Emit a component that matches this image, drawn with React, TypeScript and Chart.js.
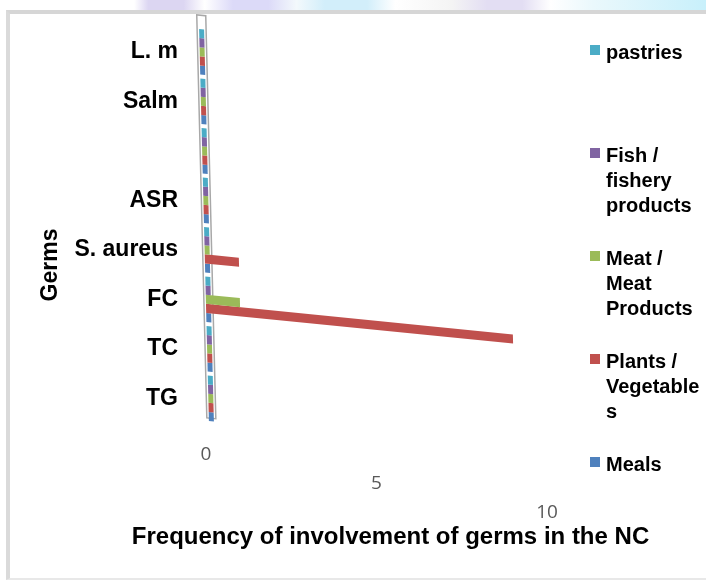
import React, { useEffect, useRef } from "react";
import { Chart, registerables } from "chart.js";

Chart.register(...registerables);

// ---- data ----
const GERMS = ["L. m", "Salm", "", "ASR", "S. aureus", "FC", "TC", "TG"];
const SERIES_NAMES = [
  "pastries",
  "Fish / fishery products",
  "Meat / Meat Products",
  "Plants / Vegetables",
  "Meals",
];
const SERIES_COLORS = ["#4BACC6", "#8064A2", "#9BBB59", "#C0504D", "#4F81BD"];
const PASTRIES = [0, 0, 0, 0, 0, 0, 0, 0];
const FISH = [0, 0, 0, 0, 0, 0, 0, 0];
const MEAT = [0, 0, 0, 0, 0, 1, 0, 0];
const PLANTS = [0, 0, 0, 0, 1, 9, 0, 0];
const MEALS = [0, 0, 0, 0, 0, 0, 0, 0];
const SERIES_VALUES = [PASTRIES, FISH, MEAT, PLANTS, MEALS];
const X_TICKS = [0, 5, 10];
const X_TITLE = "Frequency of involvement of germs in the NC";
const Y_TITLE = "Germs";

const FONT = '"Liberation Sans", Arial, sans-serif';
const SKEW_Y = 0.1;
const SKEW_X = 0.025;

const perspectivePlugin = {
  id: "perspective",
  beforeDatasetsDraw(chart: any) {
    const { ctx, chartArea: ca, scales } = chart;
    const x0 = scales.x.getPixelForValue(0);
    const yc = (ca.top + ca.bottom) / 2;
    ctx.save();
    ctx.translate(x0, yc);
    ctx.transform(1, SKEW_Y, SKEW_X, 1, 0, 0);
    ctx.translate(-x0, -yc);
    // back wall
    ctx.fillStyle = "#ffffff";
    ctx.strokeStyle = "#a8a8a8";
    ctx.lineWidth = 1.5;
    ctx.beginPath();
    ctx.rect(x0 - 2, ca.top - 12, 9, ca.bottom - ca.top + 7);
    ctx.fill();
    ctx.stroke();
  },
  afterDatasetsDraw(chart: any) {
    chart.ctx.restore();
  },
  afterDraw(chart: any) {
    const { ctx, chartArea: ca, scales } = chart;
    const x0 = scales.x.getPixelForValue(0);
    ctx.save();
    // slanted tick labels
    ctx.font = `19px "Open Sans", ${FONT}`;
    ctx.fillStyle = "#595959";
    ctx.textAlign = "center";
    ctx.textBaseline = "middle";
    X_TICKS.forEach((v) => {
      const px = scales.x.getPixelForValue(v);
      ctx.fillText(String(v), px + 2, ca.bottom + 32 + (px - x0) * 0.17);
    });
    // axis titles
    ctx.fillStyle = "#000000";
    ctx.font = `bold 24px ${FONT}`;
    ctx.fillText(X_TITLE, (ca.left + ca.right) / 2 + 16, ca.bottom + 114);
    ctx.font = `bold 23px ${FONT}`;
    ctx.translate(ca.left - 153, (ca.top + ca.bottom) / 2 + 40);
    ctx.rotate(-Math.PI / 2);
    ctx.fillText(Y_TITLE, 0, 0);
    ctx.restore();
  },
};

export default function App() {
  const ref = useRef<HTMLCanvasElement | null>(null);

  useEffect(() => {
    if (!ref.current) return;
    const chart = new Chart(ref.current, {
      type: "bar",
      data: {
        labels: GERMS,
        datasets: SERIES_NAMES.map((name, i) => ({
          label: name,
          data: SERIES_VALUES[i],
          backgroundColor: SERIES_COLORS[i],
          borderWidth: 0,
          categoryPercentage: 0.92,
          barPercentage: 1,
          minBarLength: 5,
          clip: false,
        })),
      },
      options: {
        indexAxis: "y",
        responsive: false,
        animation: false,
        devicePixelRatio: 1,
        layout: { padding: { left: 30, right: 161, top: 27, bottom: 160 } },
        plugins: {
          legend: { display: false },
          tooltip: { enabled: false },
        },
        scales: {
          x: {
            type: "linear",
            display: false,
            min: X_TICKS[0],
            max: X_TICKS[X_TICKS.length - 1],
            ticks: { stepSize: 5 },
          },
          y: {
            type: "category",
            position: "left",
            grid: { display: false, drawTicks: false },
            border: { display: false },
            ticks: {
              autoSkip: false,
              padding: 26,
              color: "#000000",
              font: { family: FONT, size: 23, weight: "bold" },
            },
            afterFit(scale: any) {
              scale.width = 174;
              scale.paddingTop = 0;
              scale.paddingBottom = 0;
            },
          },
        },
      },
      plugins: [perspectivePlugin],
    } as any);
    return () => chart.destroy();
  }, []);

  return (
    <div
      style={{
        position: "absolute",
        left: 0,
        top: 0,
        width: 706,
        height: 583,
        overflow: "hidden",
        background: "#ffffff",
        fontFamily: FONT,
      }}
    >
      <div
        style={{
          position: "absolute",
          left: 0,
          top: 0,
          width: 706,
          height: 10,
          background:
            "linear-gradient(to right, #fff 0%, #fff 19%, #dcd6f2 21%, #dcd6f2 26%, #fff 29%, #dcdaf8 33%, #dcdaf8 38%, #f3f9fc 42%, #d2eefa 46%, #d2eefa 52%, #fff 56%, #f4f4f4 64%, #e3def3 69%, #e3def3 74%, #fff 78%, #eaf8fc 84%, #c8f0fb 100%)",
        }}
      />
      <div
        style={{
          position: "absolute",
          left: 6,
          top: 10,
          width: 700,
          height: 570,
          boxSizing: "border-box",
          borderTop: "4px solid #d6d6d6",
          borderLeft: "4px solid #dadada",
          borderBottom: "2px solid #e8e8e8",
        }}
      />
      <canvas
        ref={ref}
        width={706}
        height={583}
        style={{ position: "absolute", left: 0, top: 0, display: "block" }}
      />
      <div style={{ position: "absolute", left: 590, top: 40 }}>
        {SERIES_NAMES.map((name, i) => (
          <div key={name} style={{ display: "flex", height: 103, alignItems: "flex-start" }}>
            <div
              style={{
                width: 10,
                height: 10,
                marginTop: 5,
                background: SERIES_COLORS[i],
                flex: "none",
              }}
            />
            <div
              style={{
                marginLeft: 6,
                width: 99,
                fontSize: 20,
                fontWeight: "bold",
                lineHeight: "25px",
                color: "#000",
                overflowWrap: "anywhere",
              }}
            >
              {name}
            </div>
          </div>
        ))}
      </div>
    </div>
  );
}
